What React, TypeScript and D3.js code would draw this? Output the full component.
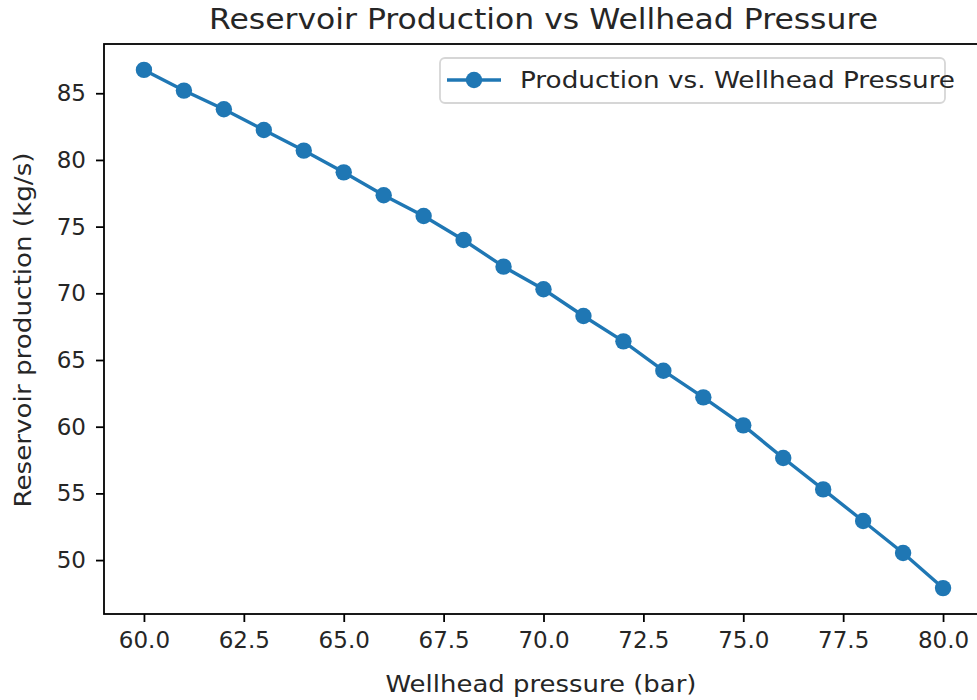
import { useEffect, useRef } from "react";
import * as d3 from "d3";

const pressures = [60, 61, 62, 63, 64, 65, 66, 67, 68, 69, 70, 71, 72, 73, 74, 75, 76, 77, 78, 79, 80];
const production = [
  86.75, 85.2, 83.8, 82.25, 80.7, 79.07, 77.35, 75.8, 74.0, 72.0, 70.3,
  68.3, 66.4, 64.2, 62.2, 60.1, 57.65, 55.3, 52.93, 50.53, 47.9,
];
const xTicks = [60, 62.5, 65, 67.5, 70, 72.5, 75, 77.5, 80];
const yTicks = [50, 55, 60, 65, 70, 75, 80, 85];

const W = 977;
const H = 700;
const FONT = "DejaVu Sans";
const BLUE = "#1f77b4";

const ProductionChart = () => {
  const ref = useRef<SVGSVGElement | null>(null);

  useEffect(() => {
    if (!ref.current) return;
    const svg = d3.select(ref.current);
    svg.selectAll("*").remove();

    const margin = { top: 44, right: -6, bottom: 86, left: 104 };
    const left = margin.left;
    const right = W - margin.right;
    const top = margin.top;
    const bottom = H - margin.bottom;

    // matplotlib-style 5% padding around the data
    const [x0, x1] = d3.extent(pressures) as [number, number];
    const [y0, y1] = d3.extent(production) as [number, number];
    const px = (x1 - x0) * 0.05;
    const py = (y1 - y0) * 0.05;

    const x = d3.scaleLinear().domain([x0 - px, x1 + px]).range([left, right]);
    const y = d3.scaleLinear().domain([y0 - py, y1 + py]).range([bottom, top]);

    const pts = pressures.map((p, i) => [p, production[i]] as [number, number]);

    svg.append("path")
      .datum(pts)
      .attr("fill", "none")
      .attr("stroke", BLUE)
      .attr("stroke-width", 3.4)
      .attr("d", d3.line<[number, number]>().x(d => x(d[0])).y(d => y(d[1])));

    svg.append("g")
      .selectAll("circle")
      .data(pts)
      .join("circle")
      .attr("cx", d => x(d[0]))
      .attr("cy", d => y(d[1]))
      .attr("r", 8.2)
      .attr("fill", BLUE);

    // spines
    svg.append("rect")
      .attr("x", left)
      .attr("y", top)
      .attr("width", right - left)
      .attr("height", bottom - top)
      .attr("fill", "none")
      .attr("stroke", "#000")
      .attr("stroke-width", 1.8);

    const xAxis = svg.append("g")
      .attr("transform", `translate(0,${bottom})`)
      .call(d3.axisBottom(x).tickValues(xTicks).tickFormat(d3.format(".1f")).tickSize(8).tickPadding(10));
    xAxis.select(".domain").remove();

    const yAxis = svg.append("g")
      .attr("transform", `translate(${left},0)`)
      .call(d3.axisLeft(y).tickValues(yTicks).tickFormat(d3.format("d")).tickSize(8).tickPadding(10));
    yAxis.select(".domain").remove();

    svg.selectAll(".tick line").attr("stroke", "#000").attr("stroke-width", 1.8);
    svg.selectAll(".tick text")
      .attr("fill", "#262626")
      .style("font-family", FONT)
      .style("font-size", "23px");

    svg.append("text")
      .attr("x", (left + right) / 2)
      .attr("y", 29)
      .attr("text-anchor", "middle")
      .attr("textLength", 669)
      .attr("lengthAdjust", "spacingAndGlyphs")
      .style("font-family", FONT)
      .style("font-size", "28px")
      .attr("fill", "#262626")
      .text("Reservoir Production vs Wellhead Pressure");

    svg.append("text")
      .attr("x", 541)
      .attr("y", 692)
      .attr("text-anchor", "middle")
      .attr("textLength", 311)
      .attr("lengthAdjust", "spacingAndGlyphs")
      .style("font-family", FONT)
      .style("font-size", "23.5px")
      .attr("fill", "#262626")
      .text("Wellhead pressure (bar)");

    svg.append("text")
      .attr("transform", `translate(31,330) rotate(-90)`)
      .attr("text-anchor", "middle")
      .attr("textLength", 355)
      .attr("lengthAdjust", "spacingAndGlyphs")
      .style("font-family", FONT)
      .style("font-size", "23.5px")
      .attr("fill", "#262626")
      .text("Reservoir production (kg/s)");

    // legend
    const lg = svg.append("g").attr("transform", "translate(440,58)");
    lg.append("rect")
      .attr("width", 505)
      .attr("height", 45)
      .attr("rx", 5)
      .attr("fill", "#fff")
      .attr("fill-opacity", 0.8)
      .attr("stroke", "#d6d6d6")
      .attr("stroke-width", 1.8);
    lg.append("line")
      .attr("x1", 7).attr("x2", 61)
      .attr("y1", 22).attr("y2", 22)
      .attr("stroke", BLUE)
      .attr("stroke-width", 3.4);
    lg.append("circle")
      .attr("cx", 34).attr("cy", 22).attr("r", 8.2)
      .attr("fill", BLUE);
    lg.append("text")
      .attr("x", 80)
      .attr("y", 22)
      .attr("dy", "0.36em")
      .attr("textLength", 435)
      .attr("lengthAdjust", "spacingAndGlyphs")
      .style("font-family", FONT)
      .style("font-size", "23.5px")
      .attr("fill", "#262626")
      .text("Production vs. Wellhead Pressure");
  }, []);

  return (
    <svg
      ref={ref}
      width={W}
      height={H}
      style={{ position: "absolute", left: 0, top: 0, background: "#fff" }}
    />
  );
};

export default function App() {
  return <ProductionChart />;
}
